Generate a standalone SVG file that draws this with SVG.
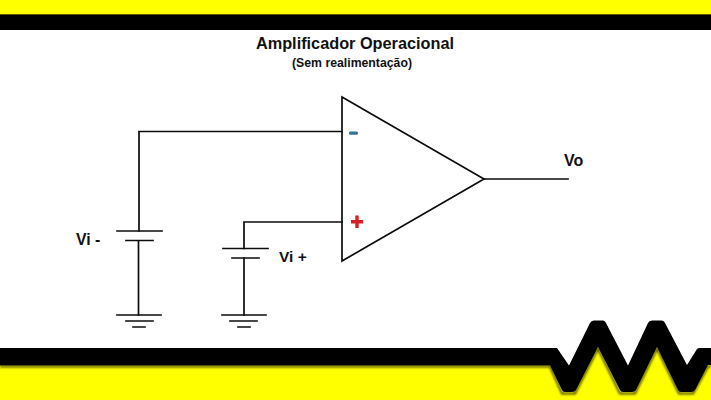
<svg xmlns="http://www.w3.org/2000/svg" width="711" height="400" viewBox="0 0 711 400">
<style>
.w{fill:none;stroke:#0c0c0c;stroke-width:1.7;stroke-linecap:square;stroke-linejoin:miter}
text{font-family:"Liberation Sans",Arial,sans-serif;font-weight:bold;fill:#111}
</style>
<defs><filter id="s" x="-5%" y="-5%" width="110%" height="115%"><feGaussianBlur stdDeviation="0.8"/></filter></defs>
<rect width="711" height="400" fill="#fff"/>
<g id="top-band">
<rect width="711" height="15" fill="#ffff00"/>
<rect y="14" width="711" height="1.5" fill="#5a5a00"/>
<rect y="15" width="711" height="15" fill="#000"/>
</g>
<g id="bottom-band">
<path d="M0 365H550L562 392H575L598 347L620 392H635L657 347L679 392H693L708 365H711V400H0Z" fill="#ffff00"/>
<path d="M0 366.500H550L562 393.500H575L598 348.500L620 393.500H635L657 348.500L679 393.500H693L708 366.500H711" fill="none" stroke="#4a4a00" stroke-width="2" filter="url(#s)"/>
<path d="M0 348H557L569 365.500L590 323Q591 320.500 594 320.500H603Q605 320.500 606 323L628 365.500L648 323Q649 320.500 652 320.500H662Q664 320.500 665 323L687 365L697 349Q698 348 700 348H711V365H708L695 390Q694 392 691 392H681Q679 392 678 390L657 347L636 390Q635 392 632 392H623Q621 392 620 390L598 347L576 390Q575 392 572 392H565Q563 392 562 390L550 365.500H0Z" fill="#000"/>
</g>
<g id="title">
<text x="355" y="49" font-size="16.300" text-anchor="middle">Amplificador Operacional</text>
<text x="352" y="66.500" font-size="12" text-anchor="middle" textLength="120" lengthAdjust="spacingAndGlyphs">(Sem realimentação)</text>
</g>
<g id="connectors">
<path class="w" d="M342 131.500H139V231"/>
<path class="w" d="M138.500 241V315"/>
<path class="w" d="M342 222H244V248.500"/>
<path class="w" d="M244 258V315"/>
<path class="w" d="M484 179H568"/>
</g>
<g id="opamp">
<path class="w" d="M342 97L484 179L342 261Z"/>
<rect x="349" y="131.500" width="9" height="3.200" rx="1.500" fill="#2f7396"/>
<path d="M357 215.500V228M351 221.700H363" stroke="#d81e26" stroke-width="3.400" fill="none"/>
</g>
<g id="battery-minus">
<path class="w" d="M117 231H162M126 240.500H153"/>
<text x="76" y="245" font-size="15.800">Vi -</text>
</g>
<g id="battery-plus">
<path class="w" d="M223 248.500H268M232 258H259"/>
<text x="279" y="262" font-size="15.500">Vi +</text>
</g>
<g id="ground-minus">
<path class="w" d="M117 315H161M126 321H153M133 327H145"/>
</g>
<g id="ground-plus">
<path class="w" d="M222 315H266M230 321H257M238 327H250"/>
</g>
<g id="output">
<text x="564" y="166" font-size="16">Vo</text>
</g>
</svg>
